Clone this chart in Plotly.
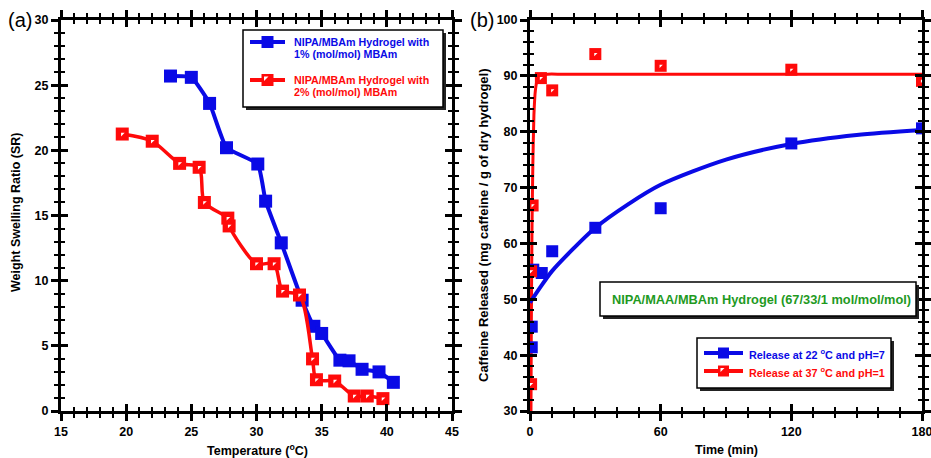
import plotly.graph_objects as go

# ---------------- data ----------------
# Panel (a): swelling ratio vs temperature
temp_1pct = [23.4, 25.0, 26.4, 27.7, 30.1, 30.7, 31.9, 33.5, 34.4, 35.0, 36.4, 37.1, 38.1, 39.4, 40.5]
sr_1pct   = [25.7, 25.6, 23.6, 20.2, 18.95, 16.1, 12.9, 8.5, 6.5, 5.95, 3.9, 3.85, 3.2, 3.0, 2.2]
temp_2pct = [19.7, 22.0, 24.1, 25.6, 26.0, 27.8, 27.9, 30.0, 31.35, 32.0, 33.3, 34.3, 34.6, 36.0, 37.5, 38.5, 39.7]
sr_2pct   = [21.25, 20.7, 19.0, 18.7, 16.0, 14.8, 14.2, 11.3, 11.3, 9.2, 8.9, 4.0, 2.4, 2.3, 1.15, 1.15, 0.95]

# Panel (b): caffeine release vs time
time_22 = [0.8, 0.8, 1.5, 5.4, 10.2, 30, 60, 120, 180]
rel_22  = [41.4, 45.1, 55.3, 54.7, 58.6, 62.8, 66.3, 77.9, 80.6]
time_37 = [0.5, 0.5, 1.2, 5.0, 10.2, 30, 60, 120, 180]
rel_37  = [34.8, 55.0, 66.8, 89.6, 87.4, 93.9, 91.8, 91.1, 89.1]

# fitted curves as drawn in the picture
fit22_t = [0, 5, 10, 20, 30, 45, 60, 90, 120, 150, 180]
fit22_y = [49.4, 52.3, 55.0, 59.1, 62.8, 67.0, 70.5, 75.0, 77.8, 79.4, 80.3]
fit37_t = [0.45, 0.6, 0.9, 1.3, 1.8, 2.5, 3.5, 5, 8, 15, 180]
fit37_y = [30.0, 45.0, 62.0, 74.0, 83.0, 87.5, 89.5, 90.1, 90.3, 90.3, 90.3]

xa_ticks = [15, 20, 25, 30, 35, 40, 45]
ya_ticks = [0, 5, 10, 15, 20, 25, 30]
xb_ticks = [0, 60, 120, 180]
yb_ticks = [30, 40, 50, 60, 70, 80, 90, 100]

# ---------------- styling ----------------
W, H = 931, 458
L, R, T, B = 61, 922, 20, 411   # plot-area pixel box (both panels)
BLUE = '#0a0ae6'
RED = '#ff0a0a'
GREEN = '#1f9a1f'
FONT = 'Liberation Sans'


def px(x):
    return (x - L) / (R - L)


def py(y):
    return (B - y) / (B - T)


dom_a = [px(61), px(452)]
dom_b = [px(530), px(922)]
dom_y = [0, 1]

fig = go.Figure()

# Panel (a)
fig.add_trace(go.Scatter(x=temp_1pct, y=sr_1pct, mode='lines+markers',
                         line=dict(color=BLUE, width=4, shape='spline', smoothing=0.4),
                         marker=dict(symbol='square', size=13, color=BLUE),
                         xaxis='x', yaxis='y', showlegend=False))
fig.add_trace(go.Scatter(x=temp_2pct, y=sr_2pct, mode='lines+markers',
                         line=dict(color=RED, width=3.5, shape='spline', smoothing=0.8),
                         marker=dict(symbol='square', size=13, color=RED),
                         xaxis='x', yaxis='y', showlegend=False))
fig.add_trace(go.Scatter(x=temp_2pct, y=sr_2pct, mode='markers',
                         marker=dict(symbol='triangle-nw', size=4, color='white', line=dict(width=0)),
                         xaxis='x', yaxis='y', showlegend=False))

# Panel (b)
fig.add_trace(go.Scatter(x=fit37_t, y=fit37_y, mode='lines',
                         line=dict(color=RED, width=3, shape='spline', smoothing=0.5),
                         xaxis='x2', yaxis='y2', showlegend=False))
fig.add_trace(go.Scatter(x=fit22_t, y=fit22_y, mode='lines',
                         line=dict(color=BLUE, width=4, shape='spline', smoothing=0.8),
                         xaxis='x2', yaxis='y2', showlegend=False))
fig.add_trace(go.Scatter(x=time_22, y=rel_22, mode='markers',
                         marker=dict(symbol='square', size=12, color=BLUE),
                         xaxis='x2', yaxis='y2', showlegend=False))
fig.add_trace(go.Scatter(x=time_37, y=rel_37, mode='markers',
                         marker=dict(symbol='square', size=12, color=RED),
                         xaxis='x2', yaxis='y2', showlegend=False))
fig.add_trace(go.Scatter(x=time_37, y=rel_37, mode='markers',
                         marker=dict(symbol='triangle-nw', size=3.6, color='white', line=dict(width=0)),
                         xaxis='x2', yaxis='y2', showlegend=False))

# dummy traces so the overlay (inside-tick) axes are drawn
fig.add_trace(go.Scatter(x=[None], y=[None], xaxis='x3', yaxis='y3', showlegend=False, hoverinfo='skip'))
fig.add_trace(go.Scatter(x=[None], y=[None], xaxis='x4', yaxis='y4', showlegend=False, hoverinfo='skip'))

tickfont = dict(family=FONT, size=12.5, color='black', weight='bold')


def main_axis(rng, tickvals, minor_dtick, **kw):
    return dict(range=rng, tickvals=tickvals, showline=True, linecolor='black', linewidth=3,
                mirror='ticks', ticks='outside', ticklen=7, tickwidth=2.5, tickcolor='black',
                minor=dict(ticks='outside', ticklen=4, tickwidth=2, tickcolor='black', dtick=minor_dtick),
                showgrid=False, zeroline=False, tickfont=tickfont, fixedrange=True,
                ticklabeloverflow='allow', automargin=False, **kw)


def over_axis(rng, tickvals, minor_dtick, **kw):
    return dict(range=rng, tickvals=tickvals, showline=False, mirror='ticks', ticks='inside',
                ticklen=7, tickwidth=2.5, tickcolor='black',
                minor=dict(ticks='inside', ticklen=4, tickwidth=2, tickcolor='black', dtick=minor_dtick),
                showgrid=False, zeroline=False, showticklabels=False, fixedrange=True,
                automargin=False, **kw)


fig.update_layout(
    width=W, height=H, autosize=False,
    margin=dict(l=L, r=W - R, t=T, b=H - B, pad=0, autoexpand=False),
    paper_bgcolor='white', plot_bgcolor='white', showlegend=False,
    xaxis=main_axis([15, 45], xa_ticks, 1, domain=dom_a, anchor='y'),
    yaxis=main_axis([0, 30], ya_ticks, 1, domain=dom_y, anchor='x'),
    xaxis2=main_axis([0, 180], xb_ticks, 10, domain=dom_b, anchor='y2'),
    yaxis2=main_axis([30, 100], yb_ticks, 2, domain=dom_y, anchor='x2'),
    xaxis3=over_axis([15, 45], xa_ticks, 1, overlaying='x', anchor='y3'),
    yaxis3=over_axis([0, 30], ya_ticks, 1, overlaying='y', anchor='x3'),
    xaxis4=over_axis([0, 180], xb_ticks, 10, overlaying='x2', anchor='y4'),
    yaxis4=over_axis([30, 100], yb_ticks, 2, overlaying='y2', anchor='x4'),
)

ann = []
shapes = []


def text(x, y, s, size=12, color='black', bold=True, angle=0, xanchor='center', family=FONT):
    ann.append(dict(x=px(x), y=py(y), xref='paper', yref='paper', text=s, showarrow=False,
                    textangle=angle, xanchor=xanchor, yanchor='middle',
                    font=dict(family=family, size=size, color=color, weight='bold' if bold else 'normal')))


# panel labels
text(20, 20, '(a)', size=20, bold=False)
text(482, 20, '(b)', size=20, bold=False)

# axis titles
text(257, 450, 'Temperature (<sup>o</sup>C)', size=12.5)
text(726, 450, 'Time (min)', size=12.5)
text(16, 212, 'Weight Swelling Ratio (SR)', size=12.5, angle=-90)
text(483, 225, 'Caffeine Released (mg caffeine / g of dry hydrogel)', size=13, angle=-90)


def box(x0, y0, x1, y1, sh=3):
    shapes.append(dict(type='rect', xref='paper', yref='paper', x0=px(x0 + sh), y0=py(y1 + sh),
                       x1=px(x1 + sh), y1=py(y0 + sh), fillcolor='#222222', line=dict(width=0)))
    shapes.append(dict(type='rect', xref='paper', yref='paper', x0=px(x0), y0=py(y1),
                       x1=px(x1), y1=py(y0), fillcolor='white', line=dict(color='black', width=1.5)))


def legend_symbol(xl, xr, y, color, size, hatched):
    shapes.append(dict(type='line', xref='paper', yref='paper', x0=px(xl), x1=px(xr), y0=py(y), y1=py(y),
                       line=dict(color=color, width=4)))
    xc = (xl + xr) / 2
    h = size / 2
    shapes.append(dict(type='rect', xref='paper', yref='paper', x0=px(xc - h), x1=px(xc + h),
                       y0=py(y + h), y1=py(y - h), fillcolor=color, line=dict(width=0)))
    if hatched:
        t = h - 2.5
        path = 'M {},{} L {},{} L {},{} Z'.format(px(xc - t), py(y - t), px(xc + 1), py(y - t),
                                                   px(xc - t), py(y + 1))
        shapes.append(dict(type='path', xref='paper', yref='paper', path=path,
                           fillcolor='white', line=dict(width=0)))


# legend (a)
box(243, 30, 443, 107)
legend_symbol(250, 285, 42, BLUE, 12, False)
text(292, 42, 'NIPA/MBAm Hydrogel with', size=10.7, color=BLUE, xanchor='left')
text(292, 54, '1% (mol/mol) MBAm', size=10.7, color=BLUE, xanchor='left')
legend_symbol(250, 285, 80, RED, 12, True)
text(292, 80, 'NIPA/MBAm Hydrogel with', size=10.7, color=RED, xanchor='left')
text(292, 92, '2% (mol/mol) MBAm', size=10.7, color=RED, xanchor='left')

# composition label (b)
box(600, 282, 916, 316)
text(761, 299, 'NIPA/MAA/MBAm Hydrogel (67/33/1 mol/mol/mol)', size=12.8, color=GREEN)

# legend (b)
box(697, 338, 891, 388)
legend_symbol(704, 743, 353, BLUE, 11, False)
text(747, 354, 'Release at 22 <sup>o</sup>C and pH=7', size=10.8, color=BLUE, xanchor='left')
legend_symbol(704, 743, 371, RED, 11, True)
text(747, 372, 'Release at 37 <sup>o</sup>C and pH=1', size=10.8, color=RED, xanchor='left')

fig.update_layout(annotations=ann, shapes=shapes)
fig.write_html('out.html')
